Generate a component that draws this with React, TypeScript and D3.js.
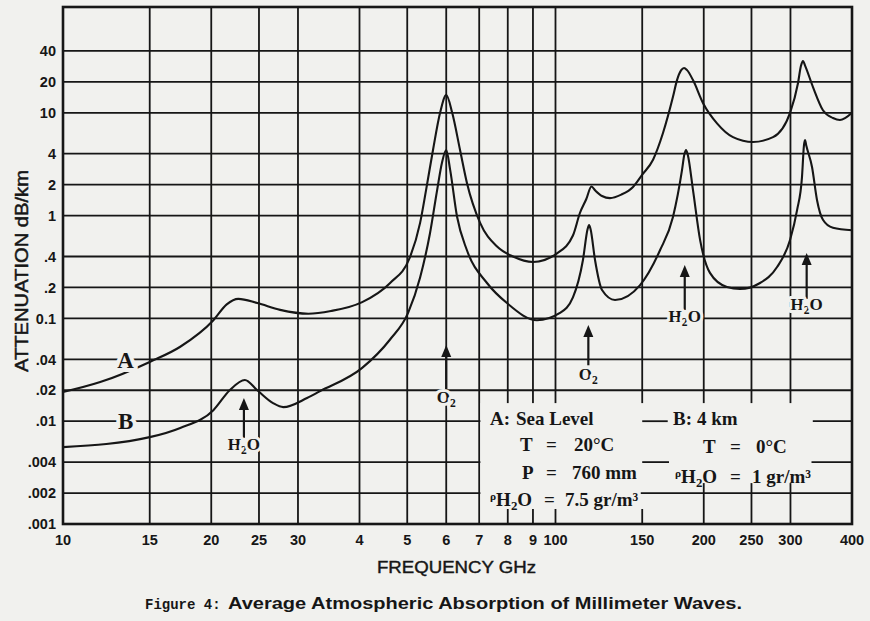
import React, { useEffect, useRef } from 'react';
import * as d3 from 'd3';

// frequency axis, GHz
const freqTicks = [10, 15, 20, 25, 30, 40, 50, 60, 70, 80, 90, 100, 150, 200, 250, 300, 400];
const freqLabels = ['10', '15', '20', '25', '30', '4', '5', '6', '7', '8', '9', '100', '150', '200', '250', '300', '400'];

// attenuation axis, dB/km
const attTicks = [40, 20, 10, 4, 2, 1, 0.4, 0.2, 0.1, 0.04, 0.02, 0.01, 0.004, 0.002, 0.001];
const attLabels = ['40', '20', '10', '4', '2', '1', '.4', '.2', '0.1', '.04', '.02', '.01', '.004', '.002', '.001'];

// curve A - sea level [GHz, dB/km]
const seaLevel: [number, number][] = [
  [10, 0.0192], [11.9, 0.024], [15, 0.0377], [17.3, 0.053], [20.2, 0.096], [21.5, 0.137],
  [22.7, 0.155], [24.8, 0.141], [27.6, 0.121], [31.5, 0.111], [35, 0.118], [40.5, 0.144],
  [46.1, 0.22], [50.6, 0.39], [53.1, 0.85], [54.6, 1.77], [56.4, 4.35], [58.3, 10],
  [60, 14.9], [61.7, 10], [64, 4.35], [66.1, 2.08], [70.3, 0.85], [76.1, 0.5], [82, 0.4],
  [90, 0.354], [100.7, 0.43], [108.5, 0.64], [112.1, 1.06], [115.5, 1.45], [118.3, 1.92],
  [120.5, 1.75], [124.3, 1.55], [129, 1.48], [136, 1.6], [143.7, 1.9], [150, 2.5],
  [157.8, 3.5], [165.3, 6.36], [173.2, 14.3], [176.5, 20.8], [180, 26], [182.4, 27.3],
  [185, 26], [190.2, 20.8], [199.4, 12.4], [212.8, 7.9], [229.3, 5.8], [251.8, 5.2],
  [276.5, 5.8], [299.4, 10], [310.8, 19.5], [315, 28.5], [318.1, 31.9], [321.5, 28.5],
  [333.3, 17.8], [349.2, 10.6], [365.9, 8.9], [378.1, 8.5], [400, 10],
];

// curve B - 4 km altitude
const fourKm: [number, number][] = [
  [10, 0.0056], [15, 0.007], [17.3, 0.0086], [20.2, 0.0128], [21.8, 0.02], [23.4, 0.0252],
  [24.8, 0.02], [26.7, 0.015], [28, 0.0137], [31.3, 0.0168], [33.2, 0.0195], [40.5, 0.033],
  [46.1, 0.062], [50.2, 0.113], [53.1, 0.25], [55.6, 0.67], [57.5, 1.77], [58.8, 3.25],
  [60, 4.35], [61.1, 2.8], [63.1, 0.98], [66.1, 0.46], [72.6, 0.221], [79.7, 0.141],
  [91.7, 0.096], [102.1, 0.113], [108.5, 0.16], [113.7, 0.37], [116.2, 0.74], [117, 0.81],
  [117.8, 0.74], [120.3, 0.37], [124.3, 0.189], [132.1, 0.151], [148.5, 0.211], [163, 0.46],
  [173.2, 0.97], [180.7, 2.78], [182.6, 3.9], [184.1, 4.35], [185.6, 3.9], [190.2, 1.77],
  [196.6, 0.58], [205.9, 0.277], [222.9, 0.202], [236.9, 0.193], [260.2, 0.221],
  [281.8, 0.316], [299.4, 0.58], [309.4, 1.13], [316.6, 2.37], [319.5, 4.8], [321.1, 5.43],
  [323, 4.8], [331.8, 2.97], [339.6, 1.42], [349.2, 0.91], [365.9, 0.76], [400, 0.72],
];

// absorption line markers
const lineFreqs = [23.3, 60, 116.6, 183, 323.6];
const lineGas = ['H2O', 'O2', 'O2', 'H2O', 'H2O'];
const arrowTips = [0.0168, 0.055, 0.0863, 0.33, 0.433];
const arrowTails = [0.0069, 0.018, 0.035, 0.121, 0.155];
const labelLevels = [0.0052, 0.0151, 0.025, 0.092, 0.121];

// legend text in runs: [text, kind, column]; kind '' | 'sub' | 'rho'
type Run = [string, string, number?];
const legendA: Run[][] = [
  [['A:', '', 0], ['Sea Level', '', 1]],
  [['T', '', 0], ['=', '', 1], ['20°C', '', 2]],
  [['P', '', 0], ['=', '', 1], ['760 mm', '', 2]],
  [['ρ', 'rho', 0], ['H', ''], ['2', 'sub'], ['O', ''], ['=', '', 1], ['7.5 gr/m³', '', 2]],
];
const legendB: Run[][] = [
  [['B:', '', 0], ['4 km', '', 1]],
  [['T', '', 0], ['=', '', 1], ['0°C', '', 2]],
  [['ρ', 'rho', 0], ['H', ''], ['2', 'sub'], ['O', ''], ['=', '', 1], ['1 gr/m³', '', 2]],
];

const SANS = '"Liberation Sans", Arial, Helvetica, sans-serif';
const SERIF = '"Liberation Serif", "Times New Roman", serif';
const MONO = '"Liberation Mono", "Courier New", monospace';

const W = 870;
const H = 621;

const addRuns = (text: any, runs: Run[], size: number, cols?: number[]) => {
  let shift = 0;
  runs.forEach(([t, kind, col]) => {
    const target = kind === 'sub' ? size * 0.22 : kind === 'rho' ? -size * 0.32 : 0;
    const ts = text.append('tspan').text(t).attr('dy', target - shift);
    if (cols && col !== undefined) ts.attr('x', cols[col]);
    if (kind === 'sub') ts.attr('font-size', size * 0.68);
    if (kind === 'rho') ts.attr('font-size', size * 0.6);
    shift = target;
  });
};

const chemRuns = (f: string): Run[] =>
  f.split('').map(c => [c, /\d/.test(c) ? 'sub' : ''] as Run);

const App: React.FC = () => {
  const svgRef = useRef<SVGSVGElement>(null);

  useEffect(() => {
    if (!svgRef.current) return;
    const svg = d3.select(svgRef.current);
    svg.selectAll('*').remove();

    const ink = '#161616';
    const paper = '#f1f1ee';

    const x = d3.scaleLog().domain([10, 400]).range([63, 852]);
    const y = d3.scaleLog().domain([0.001, 100]).range([524, 10]);
    const frameTop = y(100) - 3;

    svg.append('rect').attr('width', W).attr('height', H).attr('fill', paper);

    // grid
    const grid = svg.append('g').attr('stroke', ink).attr('stroke-width', 1.8);
    grid.selectAll('line.v')
      .data(freqTicks.slice(1, -1))
      .join('line')
      .attr('class', 'v')
      .attr('x1', d => x(d)).attr('x2', d => x(d))
      .attr('y1', frameTop).attr('y2', y(0.001));
    grid.selectAll('line.h')
      .data(attTicks.slice(0, -1))
      .join('line')
      .attr('class', 'h')
      .attr('x1', x(10)).attr('x2', x(400))
      .attr('y1', d => y(d)).attr('y2', d => y(d));

    // legend area cuts the grid
    svg.append('rect')
      .attr('x', x(70) + 1.2)
      .attr('y', y(0.015))
      .attr('width', x(400) - x(70) - 2.4)
      .attr('height', y(0.001) - y(0.015) - 1)
      .attr('fill', paper);

    const legendRules: [number, number, number][] = [
      [0.01, 150, 169], [0.01, 333, 400], [0.004, 150, 170], [0.004, 331, 400], [0.002, 149, 400],
    ];
    const legendStubs: [number, number][] = [
      [80, 0.0014], [90, 0.0014], [100, 0.0014], [150, 0.0014], [200, 0.0025], [250, 0.0025], [300, 0.0025],
    ];
    const stubs = svg.append('g').attr('stroke', ink).attr('stroke-width', 1.8);
    legendRules.forEach(([v, f0, f1]) => {
      stubs.append('line')
        .attr('x1', x(f0)).attr('x2', x(f1))
        .attr('y1', y(v)).attr('y2', y(v));
    });
    legendStubs.forEach(([f, v]) => {
      stubs.append('line')
        .attr('x1', x(f)).attr('x2', x(f))
        .attr('y1', y(v)).attr('y2', y(0.001));
    });

    // frame
    svg.append('rect')
      .attr('x', x(10)).attr('y', frameTop)
      .attr('width', x(400) - x(10)).attr('height', y(0.001) - frameTop)
      .attr('fill', 'none').attr('stroke', ink).attr('stroke-width', 2.6);

    // curves
    const line = d3.line<[number, number]>()
      .x(d => x(d[0]))
      .y(d => y(d[1]))
      .curve(d3.curveMonotoneX);
    [seaLevel, fourKm].forEach(series => {
      svg.append('path')
        .attr('d', line(series))
        .attr('fill', 'none')
        .attr('stroke', ink)
        .attr('stroke-width', 2.1);
    });

    // curve names on the grid lines
    [['A', 0.04], ['B', 0.01]].forEach(([name, v]) => {
      svg.append('text')
        .attr('x', x(13.4)).attr('y', y(v as number))
        .attr('dy', '0.36em')
        .attr('text-anchor', 'middle')
        .attr('font-family', SERIF)
        .attr('font-weight', 'bold')
        .attr('font-size', 23)
        .attr('fill', ink)
        .attr('stroke', paper).attr('stroke-width', 8).attr('paint-order', 'stroke')
        .text(name as string);
    });

    // absorption line arrows
    lineFreqs.forEach((f, i) => {
      const ax = x(f);
      const tip = y(arrowTips[i]);
      svg.append('line')
        .attr('x1', ax).attr('x2', ax)
        .attr('y1', tip + 8).attr('y2', y(arrowTails[i]))
        .attr('stroke', ink).attr('stroke-width', 2.2);
      svg.append('path')
        .attr('d', `M${ax},${tip}L${ax - 5},${tip + 12}L${ax + 5},${tip + 12}Z`)
        .attr('fill', ink);
      const t = svg.append('text')
        .attr('x', ax).attr('y', y(labelLevels[i]))
        .attr('dy', '0.33em')
        .attr('text-anchor', 'middle')
        .attr('font-family', SERIF)
        .attr('font-weight', 'bold')
        .attr('font-size', 17)
        .attr('fill', ink)
        .attr('stroke', paper).attr('stroke-width', 6).attr('paint-order', 'stroke')
        .attr('stroke-linejoin', 'round');
      addRuns(t, chemRuns(lineGas[i]), 17);
    });

    // legend
    const legendLayout = (lines: Run[][], rows: [number, number[]][]) => {
      lines.forEach((runs, i) => {
        const [ly, cols] = rows[i];
        const t = svg.append('text')
          .attr('x', cols[0]).attr('y', ly)
          .attr('font-family', SERIF)
          .attr('font-weight', 'bold')
          .attr('font-size', 19)
          .attr('fill', ink);
        addRuns(t, runs, 19, cols);
      });
    };
    legendLayout(legendA, [
      [424.5, [490, 516]],
      [451, [520, 546, 574]],
      [479, [522, 546, 572]],
      [506, [490, 544, 565]],
    ]);
    legendLayout(legendB, [
      [424.5, [673, 697]],
      [453, [703, 730, 756]],
      [483, [675, 730, 752]],
    ]);

    // tick labels
    svg.append('g')
      .selectAll('text')
      .data(attTicks)
      .join('text')
      .attr('x', 56)
      .attr('y', d => y(d))
      .attr('dy', '0.36em')
      .attr('text-anchor', 'end')
      .attr('font-family', SANS)
      .attr('font-weight', 'bold')
      .attr('font-size', 14.5)
      .attr('fill', ink)
      .text((d, i) => attLabels[i]);

    svg.append('g')
      .selectAll('text')
      .data(freqTicks)
      .join('text')
      .attr('x', d => x(d))
      .attr('y', 545)
      .attr('text-anchor', 'middle')
      .attr('font-family', SANS)
      .attr('font-weight', 'bold')
      .attr('font-size', 14.5)
      .attr('fill', ink)
      .text((d, i) => freqLabels[i]);

    // axis titles
    svg.append('text')
      .attr('transform', 'translate(28,271) rotate(-90)')
      .attr('text-anchor', 'middle')
      .attr('font-family', SANS)
      .attr('font-size', 18)
      .attr('textLength', 202)
      .attr('lengthAdjust', 'spacingAndGlyphs')
      .attr('fill', ink)
      .attr('stroke', ink).attr('stroke-width', 0.5)
      .text('ATTENUATION dB/km');

    svg.append('text')
      .attr('x', 456.5).attr('y', 573)
      .attr('text-anchor', 'middle')
      .attr('font-family', SANS)
      .attr('font-size', 16.5)
      .attr('textLength', 159)
      .attr('lengthAdjust', 'spacingAndGlyphs')
      .attr('fill', ink)
      .attr('stroke', ink).attr('stroke-width', 0.4)
      .text('FREQUENCY GHz');

    // caption
    svg.append('text')
      .attr('x', 145).attr('y', 609)
      .attr('font-family', MONO)
      .attr('font-weight', 'bold')
      .attr('font-size', 14)
      .attr('fill', ink)
      .text('Figure 4:');
    svg.append('text')
      .attr('x', 228).attr('y', 609)
      .attr('font-family', SANS)
      .attr('font-weight', 'bold')
      .attr('font-size', 17)
      .attr('textLength', 514)
      .attr('lengthAdjust', 'spacingAndGlyphs')
      .attr('fill', ink)
      .text('Average Atmospheric Absorption of Millimeter Waves.');
  }, []);

  return (
    <svg
      ref={svgRef}
      width={W}
      height={H}
      style={{ position: 'absolute', left: 0, top: 0, display: 'block' }}
    />
  );
};

export default App;
